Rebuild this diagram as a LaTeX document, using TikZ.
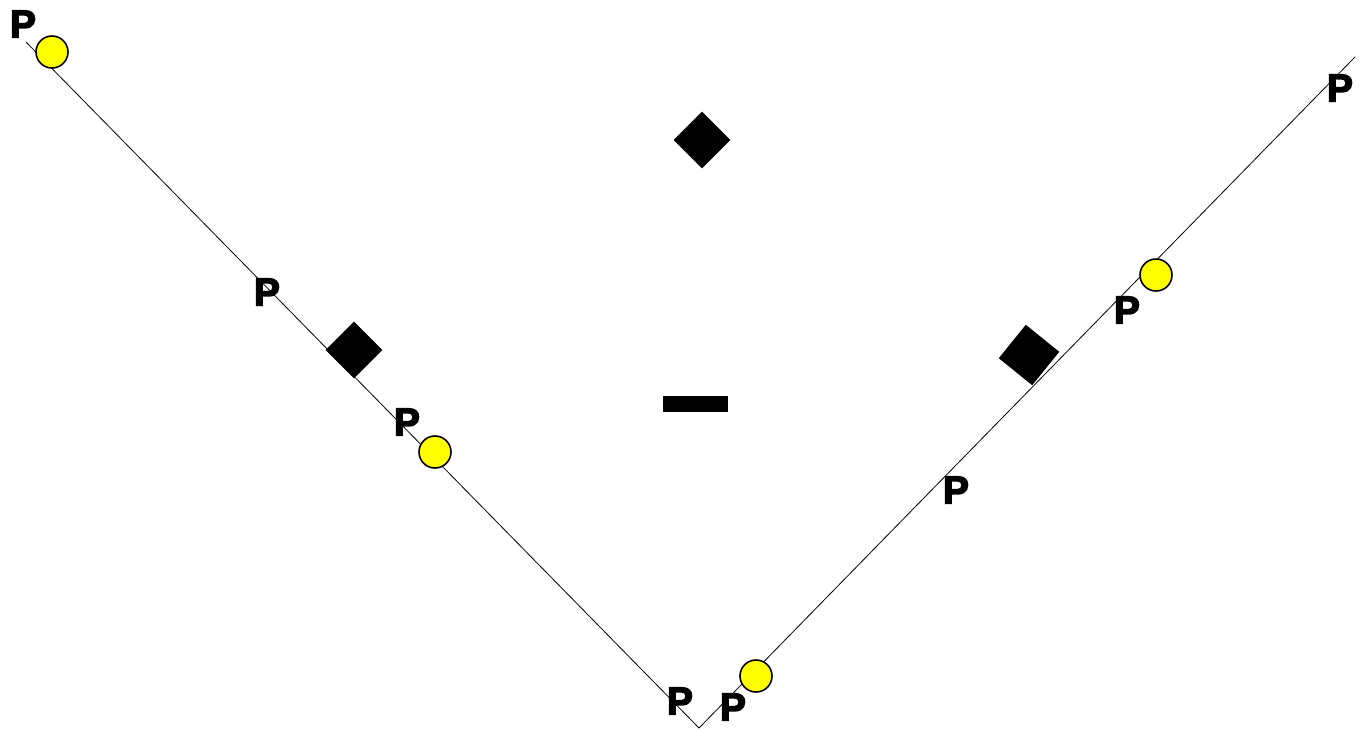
\documentclass[tikz,border=0pt]{standalone}
\usepackage{fontspec}
\newfontfamily\pfont[FakeBold=3.5]{Liberation Sans Bold}
\definecolor{ballyellow}{RGB}{255,255,0}
\begin{document}
\begin{tikzpicture}[x=1pt,y=-1pt,
  plabel/.style={inner sep=0pt,font=\pfont\fontsize{39}{39}\selectfont},
  ball/.style={circle,draw=black,line width=1.6pt,fill=ballyellow,minimum size=32pt,inner sep=0pt},
  stone/.style={fill=black,minimum size=40pt,inner sep=0pt}]
\useasboundingbox (0,0) rectangle (1359,729);

% the V line
\coordinate (topleft) at (26,42);
\coordinate (bottom) at (699,728);
\coordinate (topright) at (1355,57);
\draw[line width=0.8pt] (topleft) -- (bottom) -- (topright);

% yellow balls
\node[ball] (ballA) at (52,52) {};
\node[ball] (ballB) at (435,452) {};
\node[ball] (ballC) at (756,676) {};
\node[ball] (ballD) at (1156,275) {};

% black stones
\node[stone,rotate=45] (stoneA) at (354,350) {};
\node[stone,rotate=45] (stoneB) at (702,140) {};
\node[stone,rotate=51,minimum size=43pt] (stoneC) at (1029,355) {};
\fill (663,396) rectangle (728,412);

% P labels
\node[plabel] (pA) at (23,24) {P};
\node[plabel] (pB) at (267,292) {P};
\node[plabel] (pC) at (407,422) {P};
\node[plabel] (pD) at (680,701) {P};
\node[plabel] (pE) at (733,707) {P};
\node[plabel] (pF) at (956,490) {P};
\node[plabel] (pG) at (1127,310) {P};
\node[plabel] (pH) at (1340,88) {P};
\end{tikzpicture}
\end{document}
